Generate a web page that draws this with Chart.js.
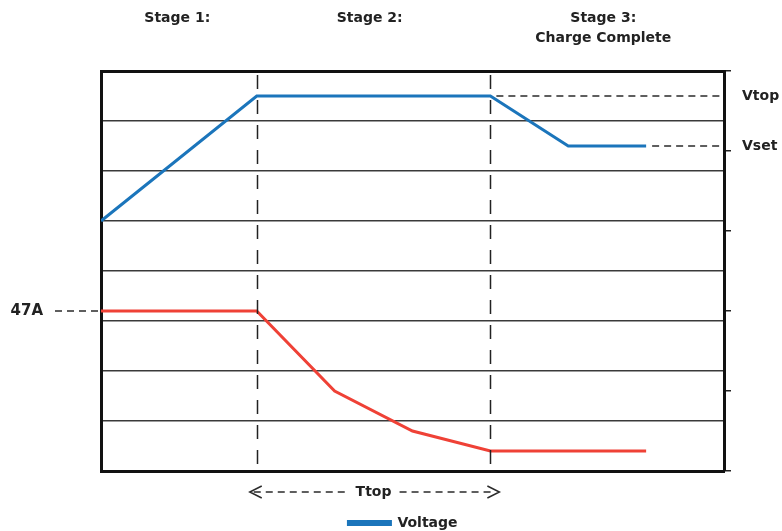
<!DOCTYPE html>
<html>
<head>
<meta charset="utf-8">
<script src="https://cdn.jsdelivr.net/npm/chart.js@4"></script>
<style>
  html, body { margin: 0; padding: 0; background: #fff; }
  #wrap { width: 782px; height: 531px; }
</style>
</head>
<body>
<div id="wrap"><canvas id="chargeChart"></canvas></div>
<script>
// Data (x in time units, voltage on left scale, current on right scale)
const voltageX = [0, 2, 5, 6, 7];
const voltageY = [5, 7.5, 7.5, 6.5, 6.5];
const currentX = [0, 2, 3, 4, 5, 7];
const currentY = [2, 2, 1, 0.5, 0.25, 0.25];

const stageLabels = [['Stage 1:'], ['Stage 2:'], ['Stage 3:', 'Charge Complete']];
const stageCenters = [0.98, 3.45, 6.45];
const stageBounds = [2, 5];

const vTop = 7.5;
const vSet = 6.5;
const currentMax = 2; // 47A

const BLUE = '#1b75bb';
const RED = '#ef4136';
const FONT = 'DejaVu Sans';

const toPoints = (xs, ys) => xs.map((x, i) => ({ x: x, y: ys[i] }));

// Draws the stage titles, dashed reference lines, side labels and Ttop arrow
const annotations = {
    id: 'annotations',
    afterDraw(chart) {
        const { ctx, chartArea: a, scales } = chart;
        const x = scales.x, y = scales.y, y1 = scales.y1;

        ctx.save();
        ctx.fillStyle = '#222';
        ctx.font = 'bold 14px ' + FONT;
        ctx.textAlign = 'center';
        ctx.textBaseline = 'middle';
        stageLabels.forEach((lines, i) => {
            lines.forEach((t, j) => ctx.fillText(t, x.getPixelForValue(stageCenters[i]), 18 + j * 20));
        });

        // stage boundaries
        ctx.strokeStyle = '#222';
        ctx.lineWidth = 1.5;
        ctx.setLineDash([14, 11]);
        stageBounds.forEach(v => {
            const px = Math.round(x.getPixelForValue(v)) + 0.5;
            ctx.beginPath();
            ctx.moveTo(px, a.top + 4);
            ctx.lineTo(px, a.bottom);
            ctx.stroke();
        });

        // Vtop / Vset / 47A
        ctx.strokeStyle = '#2a2a2a';
        ctx.lineWidth = 1.5;
        ctx.setLineDash([7, 5]);
        const hline = (x0, x1, py) => {
            ctx.beginPath();
            ctx.moveTo(x0, py);
            ctx.lineTo(x1, py);
            ctx.stroke();
        };
        const pTop = y.getPixelForValue(vTop), pSet = y.getPixelForValue(vSet);
        const pCur = y1.getPixelForValue(currentMax);
        hline(x.getPixelForValue(voltageX[2]) + 6, a.right, pTop);
        hline(x.getPixelForValue(voltageX[4]) + 6, a.right, pSet);
        hline(55, a.left, pCur);

        ctx.font = 'bold 14px ' + FONT;
        ctx.textAlign = 'left';
        ctx.fillText('Vtop', 742, pTop);
        ctx.fillText('Vset', 742, pSet);
        ctx.textAlign = 'right';
        ctx.font = 'bold 15px ' + FONT;
        ctx.fillText('47A', 43, pCur);

        // Ttop arrow
        ctx.font = 'bold 14px ' + FONT;
        const xl = x.getPixelForValue(stageBounds[0]) - 7;
        const xr = x.getPixelForValue(stageBounds[1]) + 9;
        const xm = x.getPixelForValue(3.5);
        const ay = 492;
        ctx.textAlign = 'center';
        ctx.fillText('Ttop', xm, ay);
        hline(xl + 4, xm - 24, ay);
        hline(xm + 26, xr - 4, ay);
        ctx.setLineDash([]);
        ctx.beginPath();
        ctx.moveTo(xl + 12, ay - 6); ctx.lineTo(xl, ay); ctx.lineTo(xl + 12, ay + 6);
        ctx.moveTo(xr - 12, ay - 6); ctx.lineTo(xr, ay); ctx.lineTo(xr - 12, ay + 6);
        ctx.stroke();
        ctx.restore();
    }
};

new Chart(document.getElementById('chargeChart'), {
    type: 'line',
    data: {
        datasets: [{
            label: 'Voltage',
            data: toPoints(voltageX, voltageY),
            borderColor: BLUE,
            backgroundColor: BLUE,
            borderWidth: 3,
            pointRadius: 0,
            yAxisID: 'y'
        }, {
            label: 'Current',
            data: toPoints(currentX, currentY),
            borderColor: RED,
            backgroundColor: RED,
            borderWidth: 3,
            pointRadius: 0,
            yAxisID: 'y1'
        }]
    },
    options: {
        responsive: true,
        maintainAspectRatio: false,
        animation: false,
        layout: { padding: { top: 71, left: 24, right: 0, bottom: -9 } },
        plugins: {
            tooltip: { enabled: false },
            legend: {
                position: 'bottom',
                labels: {
                    filter: item => item.text === 'Voltage',
                    boxWidth: 42,
                    boxHeight: 3,
                    padding: 2,
                    color: '#222',
                    font: { family: FONT, size: 14, weight: 'bold' }
                }
            }
        },
        scales: {
            x: {
                type: 'linear',
                min: 0,
                max: 8,
                grid: { display: false },
                ticks: { display: false },
                border: { display: true, color: '#111', width: 3 },
                afterFit: s => { s.height = 43; }
            },
            y: {
                min: 0,
                max: 8,
                ticks: { display: false, stepSize: 1 },
                grid: {
                    drawTicks: false,
                    color: ctx => ctx.tick && ctx.tick.value === 8 ? '#111' : '#3a3a3a',
                    lineWidth: ctx => ctx.tick && ctx.tick.value === 8 ? 3 : 1.5
                },
                border: { color: '#111', width: 3 },
                afterFit: s => { s.width = 77; }
            },
            y1: {
                position: 'right',
                min: 0,
                max: 5,
                ticks: { display: false, stepSize: 1 },
                grid: { drawOnChartArea: false, drawTicks: true, tickLength: 7, color: '#222', lineWidth: 1.5 },
                border: { color: '#111', width: 3 },
                afterFit: s => { s.width = 58; }
            }
        }
    },
    plugins: [annotations]
});
</script>
</body>
</html>
